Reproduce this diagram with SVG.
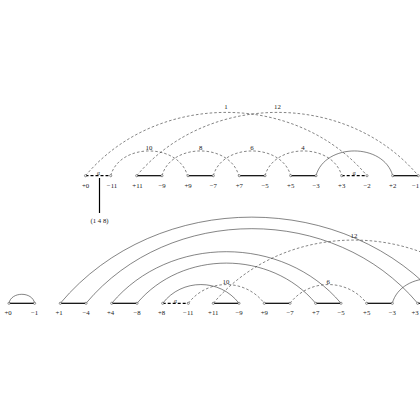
<svg xmlns="http://www.w3.org/2000/svg" width="420" height="420" viewBox="0 0 420 420">
<style>
text{font-family:"Liberation Serif","DejaVu Serif",serif;font-size:6.8px;fill:#222;text-anchor:middle;dominant-baseline:central}
.sm{font-size:5.5px}
.arc{fill:none;stroke:#333;stroke-width:0.6}
.da{stroke-dasharray:2.6 2}
.e{stroke:#000;stroke-width:1.2;fill:none}
.ed{stroke-dasharray:3 2}
.n{fill:#fff;stroke:#333;stroke-width:0.5}
</style>
<rect width="420" height="420" fill="#fff"/>
<g id="connectors">
<path class="arc da" d="M85.5,175.7 C156.4,91.3 296.1,91.3 367,175.7"/>
<path class="arc da" d="M136.7,175.7 C207.6,91.3 347.4,91.3 418.3,175.7"/>
<path class="arc da" d="M110.7,175.7 C119.7,142.7 178.5,142.7 187.5,175.7"/>
<path class="arc da" d="M162,175.7 C171,142.7 229.8,142.7 238.8,175.7"/>
<path class="arc da" d="M213.3,175.7 C222.3,142.7 281.7,142.7 290.7,175.7"/>
<path class="arc da" d="M265,175.7 C274,142.7 332.7,142.7 341.7,175.7"/>
<path class="arc" d="M316,175.7 C325,142.7 383.7,142.7 392.7,175.7"/>
<line class="e ed" x1="85.5" y1="175.7" x2="110.7" y2="175.7"/>
<line class="e" x1="136.7" y1="175.7" x2="162" y2="175.7"/>
<line class="e" x1="188" y1="175.7" x2="213.3" y2="175.7"/>
<line class="e" x1="239.3" y1="175.7" x2="265" y2="175.7"/>
<line class="e" x1="290.7" y1="175.7" x2="316" y2="175.7"/>
<line class="e ed" x1="341.7" y1="175.7" x2="367" y2="175.7"/>
<line class="e" x1="392.7" y1="175.7" x2="418.3" y2="175.7"/>
<line class="e" x1="99.5" y1="178" x2="99.5" y2="213"/>
<path class="arc" d="M9,303.3 C11,291.3 32.6,291.3 34.6,303.3"/>
<path class="arc" d="M60.3,303.3 C156.7,188.4 346.9,188.4 443.3,303.3"/>
<path class="arc" d="M86,303.3 C169.5,203.8 334.2,203.8 417.7,303.3"/>
<path class="arc" d="M111.7,303.3 C169.4,234.5 283.3,234.5 341,303.3"/>
<path class="arc" d="M137,303.3 C182,249.7 270.7,249.7 315.7,303.3"/>
<path class="arc" d="M162.7,303.3 C181.7,278.3 220,278.3 239,303.3"/>
<path class="arc da" d="M188.3,303.3 C207.3,278.3 245.3,278.3 264.3,303.3"/>
<path class="arc da" d="M290,303.3 C309,278.3 347.7,278.3 366.7,303.3"/>
<path class="arc da" d="M213.3,303.3 C284,219 423.6,219 494.3,303.3"/>
<path class="arc" d="M392.3,303.3 C401.3,270.3 460,270.3 469,303.3"/>
<line class="e" x1="9" y1="303.3" x2="34.6" y2="303.3"/>
<line class="e" x1="60.3" y1="303.3" x2="86" y2="303.3"/>
<line class="e" x1="111.7" y1="303.3" x2="137" y2="303.3"/>
<line class="e ed" x1="162.7" y1="303.3" x2="188.3" y2="303.3"/>
<line class="e" x1="213.3" y1="303.3" x2="239" y2="303.3"/>
<line class="e" x1="264.3" y1="303.3" x2="290" y2="303.3"/>
<line class="e" x1="315.7" y1="303.3" x2="341" y2="303.3"/>
<line class="e" x1="366.7" y1="303.3" x2="392.3" y2="303.3"/>
<line class="e" x1="417.7" y1="303.3" x2="425" y2="303.3"/>
</g>
<g id="edge-labels">
<text x="226" y="106">1</text>
<text x="277.5" y="106">12</text>
<text x="149" y="147.5">10</text>
<text x="200.7" y="147.5">8</text>
<text x="252" y="147.5">6</text>
<text x="303" y="147.5">4</text>
<text class="sm" x="98.5" y="172.8">α</text>
<text class="sm" x="354.3" y="172.8">α</text>
<text x="99.5" y="220.7">(1 4 8)</text>
<text x="226" y="281">10</text>
<text x="328.3" y="281">6</text>
<text x="354" y="235">12</text>
<text class="sm" x="175.5" y="300.5">α</text>
</g>
<g id="top-nodes">
<g id="t0"><circle class="n" cx="85.5" cy="175.7" r="1.1"/><text x="85.5" y="185">+0</text></g>
<g id="t1"><circle class="n" cx="110.7" cy="175.7" r="1.1"/><text x="112" y="185">−11</text></g>
<g id="t2"><circle class="n" cx="136.7" cy="175.7" r="1.1"/><text x="137.5" y="185">+11</text></g>
<g id="t3"><circle class="n" cx="162" cy="175.7" r="1.1"/><text x="162" y="185">−9</text></g>
<g id="t4"><circle class="n" cx="188" cy="175.7" r="1.1"/><text x="188" y="185">+9</text></g>
<g id="t5"><circle class="n" cx="213.3" cy="175.7" r="1.1"/><text x="213.3" y="185">−7</text></g>
<g id="t6"><circle class="n" cx="239.3" cy="175.7" r="1.1"/><text x="239.3" y="185">+7</text></g>
<g id="t7"><circle class="n" cx="265" cy="175.7" r="1.1"/><text x="265" y="185">−5</text></g>
<g id="t8"><circle class="n" cx="290.7" cy="175.7" r="1.1"/><text x="290.7" y="185">+5</text></g>
<g id="t9"><circle class="n" cx="316" cy="175.7" r="1.1"/><text x="316" y="185">−3</text></g>
<g id="t10"><circle class="n" cx="341.7" cy="175.7" r="1.1"/><text x="341.7" y="185">+3</text></g>
<g id="t11"><circle class="n" cx="367" cy="175.7" r="1.1"/><text x="367" y="185">−2</text></g>
<g id="t12"><circle class="n" cx="392.7" cy="175.7" r="1.1"/><text x="392.7" y="185">+2</text></g>
<g id="t13"><circle class="n" cx="418.3" cy="175.7" r="1.1"/><text x="415.5" y="185">−1</text></g>
</g>
<g id="bottom-nodes">
<g id="b0"><circle class="n" cx="9" cy="303.3" r="1.1"/><text x="8" y="312.5">+0</text></g>
<g id="b1"><circle class="n" cx="34.6" cy="303.3" r="1.1"/><text x="34.6" y="312.5">−1</text></g>
<g id="b2"><circle class="n" cx="60.3" cy="303.3" r="1.1"/><text x="59" y="312.5">+1</text></g>
<g id="b3"><circle class="n" cx="86" cy="303.3" r="1.1"/><text x="86" y="312.5">−4</text></g>
<g id="b4"><circle class="n" cx="111.7" cy="303.3" r="1.1"/><text x="110.5" y="312.5">+4</text></g>
<g id="b5"><circle class="n" cx="137" cy="303.3" r="1.1"/><text x="137" y="312.5">−8</text></g>
<g id="b6"><circle class="n" cx="162.7" cy="303.3" r="1.1"/><text x="161.5" y="312.5">+8</text></g>
<g id="b7"><circle class="n" cx="188.3" cy="303.3" r="1.1"/><text x="188.3" y="312.5">−11</text></g>
<g id="b8"><circle class="n" cx="213.3" cy="303.3" r="1.1"/><text x="213.3" y="312.5">+11</text></g>
<g id="b9"><circle class="n" cx="239" cy="303.3" r="1.1"/><text x="239" y="312.5">−9</text></g>
<g id="b10"><circle class="n" cx="264.3" cy="303.3" r="1.1"/><text x="264.3" y="312.5">+9</text></g>
<g id="b11"><circle class="n" cx="290" cy="303.3" r="1.1"/><text x="290" y="312.5">−7</text></g>
<g id="b12"><circle class="n" cx="315.7" cy="303.3" r="1.1"/><text x="315.7" y="312.5">+7</text></g>
<g id="b13"><circle class="n" cx="341" cy="303.3" r="1.1"/><text x="341" y="312.5">−5</text></g>
<g id="b14"><circle class="n" cx="366.7" cy="303.3" r="1.1"/><text x="366.7" y="312.5">+5</text></g>
<g id="b15"><circle class="n" cx="392.3" cy="303.3" r="1.1"/><text x="392.3" y="312.5">−3</text></g>
<g id="b16"><circle class="n" cx="417.7" cy="303.3" r="1.1"/><text x="415" y="312.5">+3</text></g>
</g>
</svg>
